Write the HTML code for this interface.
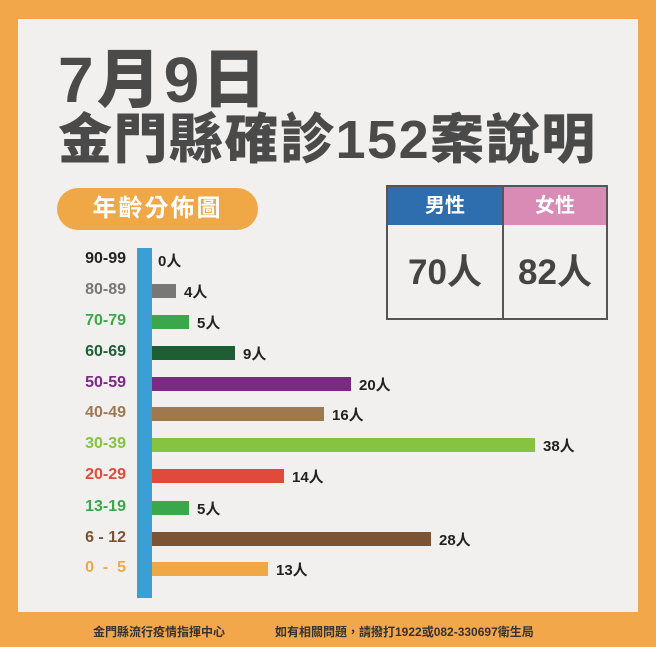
<!DOCTYPE html>
<html><head><meta charset="utf-8"><style>
body{margin:0;width:656px;height:647px;background:#F2A74A;position:relative;overflow:hidden;font-family:"Liberation Sans","Noto Sans CJK TC",sans-serif;font-weight:bold}
.panel{position:absolute;left:18px;top:19px;width:620px;height:593px;background:#F1F0EF}
.abs{position:absolute;white-space:nowrap}
.t1{left:58px;top:48px;font-size:64px;color:#4a4a4a;line-height:1;font-weight:900;letter-spacing:3px}
.t2{left:58px;top:113px;font-size:54px;color:#4a4a4a;line-height:1;font-weight:900;letter-spacing:1.5px}
.pill{left:57px;top:188px;width:201px;height:42px;border-radius:21px;background:#F0A846;color:#fff;font-size:24px;text-align:center;line-height:42px;letter-spacing:2px}
.tbl{left:386px;top:185px;width:218px;height:131px;border:2px solid #555;}
.lab{font-size:16px;text-align:right;width:80px}
.bar{position:absolute;left:152px;height:14px}
.val{font-size:15px;color:#222}
</style></head><body>
<div class="panel"></div>
<div class="abs t1">7月9日</div>
<div class="abs t2">金門縣確診152案說明</div>
<div class="abs pill">年齡分佈圖</div>
<div class="abs tbl">
 <div class="abs" style="left:0;top:0;width:114px;height:38px;background:#2E6DAE;color:#fff;font-size:20px;text-align:center;line-height:38px">男性</div>
 <div class="abs" style="left:116px;top:0;width:102px;height:38px;background:#D98AB5;color:#fff;font-size:20px;text-align:center;line-height:38px">女性</div>
 <div class="abs" style="left:114px;top:0;width:2px;height:131px;background:#555"></div>
 <div class="abs" style="left:0;top:57px;width:114px;text-align:center;font-size:35px;color:#444">70人</div>
 <div class="abs" style="left:116px;top:57px;width:102px;text-align:center;font-size:35px;color:#444">82人</div>
</div>
<div class="abs" style="left:137px;top:248px;width:15px;height:350px;background:#3A9FD5"></div>
<div id="rows"></div>
<div class="abs" style="left:93px;top:623px;font-size:12px;color:#333">金門縣流行疫情指揮中心</div>
<div class="abs" style="left:275px;top:623px;font-size:12px;color:#333">如有相關問題，請撥打1922或082-330697衛生局</div>
<script>
var d=[["90-99",0,"#222",0],["80-89",4,"#777",24],["70-79",5,"#3AA84A",37],["60-69",9,"#1E5E35",83],["50-59",20,"#7B2A83",199],["40-49",16,"#A07850",172],["30-39",38,"#86C341",383],["20-29",14,"#E04A3A",132],["13-19",5,"#3AA84A",37],["6 - 12",28,"#7C5434",279],["0  -  5",13,"#F0A846",116]];
var ys=[260,291,322,353,384,414,445,476,508,539,569],h="";
d.forEach(function(r,i){var y=ys[i],w=r[3];
h+='<div class="abs lab" style="left:46px;top:'+(y-10)+'px;color:'+r[2]+'">'+r[0].replace(/ /g,'&nbsp;')+'</div>';
if(w)h+='<div class="bar" style="top:'+(y-7)+'px;width:'+w+'px;background:'+r[2]+'"></div>';
h+='<div class="abs val" style="left:'+(152+w+(w?8:6))+'px;top:'+(y-10)+'px">'+r[1]+'人</div>';});
document.getElementById('rows').innerHTML=h;
</script>
</body></html>
